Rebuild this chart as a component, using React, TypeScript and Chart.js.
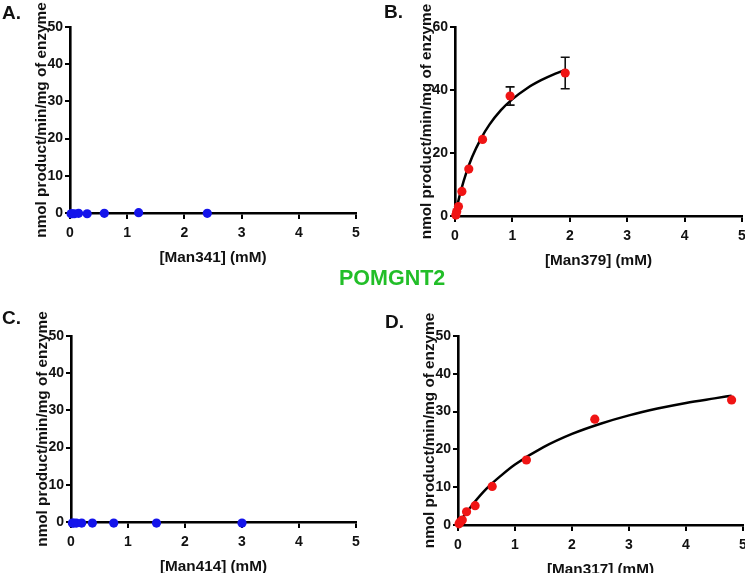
import React, { useEffect, useRef } from "react";
import { Chart, registerables } from "chart.js";

Chart.register(...registerables);

const FONT = "'Liberation Sans', Arial, Helvetica, sans-serif";

// ---- Data ----
const mainTitle = "POMGNT2";
const yTitle = "nmol product/min/mg of enzyme";

// Panel A: Man341 (no activity)
const aX = [0.01875, 0.0375, 0.075, 0.15, 0.3, 0.6, 1.2, 2.4];
const aY = [-0.2, -0.2, -0.2, -0.1, -0.2, -0.1, 0.1, -0.1];

// Panel B: Man379
const bX = [0.015, 0.03, 0.06, 0.12, 0.24, 0.48, 0.96, 1.92];
const bY = [0.3, 1.4, 3.0, 7.8, 14.9, 24.3, 38.1, 45.4];
const bErr = [0, 0, 0, 0, 0, 0, 2.9, 5.0];
const bCurveX = [0, 0.05, 0.1, 0.2, 0.3, 0.45, 0.6, 0.8, 1.0, 1.25, 1.5, 1.75, 1.92];
const bCurveY = [0, 4.1, 7.8, 13.9, 18.8, 24.5, 29.0, 33.6, 37.1, 40.5, 43.1, 45.2, 46.4];

// Panel C: Man414 (no activity)
const cX = [0.0234, 0.046875, 0.09375, 0.1875, 0.375, 0.75, 1.5, 3.0];
const cY = [-0.3, -0.3, -0.3, -0.3, -0.3, -0.3, -0.3, -0.3];

// Panel D: Man317
const dX = [0.01875, 0.0375, 0.075, 0.15, 0.3, 0.6, 1.2, 2.4, 4.8];
const dY = [0.3, 0.8, 1.3, 3.5, 5.1, 10.2, 17.2, 28.0, 33.1];
const dCurveX = [0, 0.1, 0.25, 0.5, 0.75, 1.0, 1.5, 2.0, 2.5, 3.0, 3.5, 4.0, 4.5, 4.8];
const dCurveY = [0, 2.3, 5.3, 9.6, 13.0, 16.0, 20.6, 24.1, 26.8, 29.0, 30.8, 32.3, 33.5, 34.2];

const xMaxAll = 5;
const xStep = 1;

type PanelSpec = {
  L: number; T: number; W: number; H: number;
  area: { x0: number; y0: number; x1: number; y1: number };
  xs: number[]; ys: number[]; color: string;
  curveX?: number[]; curveY?: number[]; err?: number[];
  yMax: number; yStep: number; xTitle: string;
};

function Panel({ spec }: { spec: PanelSpec }) {
  const ref = useRef<HTMLCanvasElement | null>(null);
  useEffect(() => {
    const { L, T, W, H, area } = spec;
    const yAxisW = area.x0 - L;
    const padTop = area.y0 - T;
    const padRight = L + W - area.x1;
    const xAxisH = T + H - area.y1;
    const titleSize = 15.3;
    const halfLH = (titleSize * 1.2) / 2;
    const yTitlePad = yAxisW - 28.5 - halfLH;
    const xTitlePad = xAxisH - 45 - halfLH;
    const tickFont = { family: FONT, size: 14, weight: "bold" as const };
    const titleFont = { family: FONT, size: titleSize, weight: "bold" as const };

    const datasets: any[] = [
      {
        data: spec.xs.map((x, i) => ({ x, y: spec.ys[i] })),
        backgroundColor: spec.color,
        borderColor: spec.color,
        borderWidth: 0,
        pointRadius: 4.6,
        pointHoverRadius: 4.6,
        clip: false,
        order: 0,
      },
    ];
    if (spec.curveX && spec.curveY) {
      datasets.push({
        data: spec.curveX.map((x, i) => ({ x, y: spec.curveY![i] })),
        showLine: true,
        borderColor: "#000",
        borderWidth: 2.5,
        pointRadius: 0,
        pointHoverRadius: 0,
        fill: false,
        cubicInterpolationMode: "monotone",
        clip: false,
        order: 1,
      });
    }

    const errPlugin = {
      id: "errbars",
      beforeDatasetsDraw(chart: any) {
        if (!spec.err) return;
        const ctx = chart.ctx;
        const xs = chart.scales.x;
        const ys = chart.scales.y;
        ctx.save();
        ctx.strokeStyle = "#111";
        ctx.lineWidth = 1.6;
        spec.err.forEach((e, i) => {
          if (!e) return;
          const px = xs.getPixelForValue(spec.xs[i]);
          const top = ys.getPixelForValue(spec.ys[i] + e);
          const bot = ys.getPixelForValue(spec.ys[i] - e);
          ctx.beginPath();
          ctx.moveTo(px, top);
          ctx.lineTo(px, bot);
          ctx.moveTo(px - 4.5, top);
          ctx.lineTo(px + 4.5, top);
          ctx.moveTo(px - 4.5, bot);
          ctx.lineTo(px + 4.5, bot);
          ctx.stroke();
        });
        ctx.restore();
      },
    };

    const chart = new Chart(ref.current as HTMLCanvasElement, {
      type: "scatter",
      data: { datasets },
      plugins: [errPlugin],
      options: {
        animation: false,
        responsive: false,
        devicePixelRatio: 1,
        layout: { padding: { top: padTop, right: padRight, left: 0, bottom: 0 } },
        plugins: { legend: { display: false }, tooltip: { enabled: false } },
        scales: {
          x: {
            type: "linear",
            min: 0,
            max: xMaxAll,
            ticks: { stepSize: xStep, font: tickFont, color: "#111", padding: 6 },
            grid: {
              display: true,
              drawOnChartArea: false,
              drawTicks: true,
              tickLength: 6,
              lineWidth: 2,
              color: "#000",
            },
            border: { display: true, width: 2.6, color: "#000" },
            title: {
              display: true,
              text: spec.xTitle,
              font: titleFont,
              color: "#111",
              padding: { top: 0, bottom: xTitlePad },
            },
            afterFit: (s: any) => {
              s.height = xAxisH;
            },
          },
          y: {
            type: "linear",
            min: 0,
            max: spec.yMax,
            ticks: { stepSize: spec.yStep, font: tickFont, color: "#111", padding: 2 },
            grid: {
              display: true,
              drawOnChartArea: false,
              drawTicks: true,
              tickLength: 5,
              lineWidth: 2,
              color: "#000",
            },
            border: { display: true, width: 2.6, color: "#000" },
            title: {
              display: true,
              text: yTitle,
              font: titleFont,
              color: "#111",
              padding: { top: yTitlePad, bottom: 0 },
            },
            afterFit: (s: any) => {
              s.width = yAxisW;
            },
          },
        },
      } as any,
    });
    return () => chart.destroy();
  }, [spec]);

  return (
    <canvas
      ref={ref}
      width={spec.W}
      height={spec.H}
      style={{ position: "absolute", left: spec.L, top: spec.T, width: spec.W, height: spec.H }}
    />
  );
}

const panels: PanelSpec[] = [
  {
    L: 0, T: 0, W: 372, H: 275,
    area: { x0: 70, y0: 27, x1: 356, y1: 213 },
    xs: aX, ys: aY, color: "rgb(20,20,235)",
    yMax: 50, yStep: 10, xTitle: "[Man341] (mM)",
  },
  {
    L: 372, T: 0, W: 385, H: 275,
    area: { x0: 455, y0: 27, x1: 742, y1: 216 },
    xs: bX, ys: bY, color: "rgb(240,20,20)",
    curveX: bCurveX, curveY: bCurveY, err: bErr,
    yMax: 60, yStep: 20, xTitle: "[Man379] (mM)",
  },
  {
    L: 0, T: 283, W: 372, H: 300,
    area: { x0: 71, y0: 336, x1: 356, y1: 522 },
    xs: cX, ys: cY, color: "rgb(20,20,235)",
    yMax: 50, yStep: 10, xTitle: "[Man414] (mM)",
  },
  {
    L: 372, T: 283, W: 385, H: 300,
    area: { x0: 458, y0: 336, x1: 743, y1: 525 },
    xs: dX, ys: dY, color: "rgb(240,20,20)",
    curveX: dCurveX, curveY: dCurveY,
    yMax: 50, yStep: 10, xTitle: "[Man317] (mM)",
  },
];

const labelStyle: React.CSSProperties = {
  position: "absolute",
  fontFamily: FONT,
  fontWeight: "bold",
  fontSize: 19,
  lineHeight: "19px",
  color: "#111",
  whiteSpace: "nowrap",
};

export default function App() {
  return (
    <div
      style={{
        position: "fixed",
        left: 0,
        top: 0,
        width: 745,
        height: 573,
        overflow: "hidden",
        background: "#fff",
      }}
    >
      {panels.map((p, i) => (
        <Panel key={i} spec={p} />
      ))}
      <div style={{ ...labelStyle, left: 2, top: 3 }}>A.</div>
      <div style={{ ...labelStyle, left: 384, top: 2 }}>B.</div>
      <div style={{ ...labelStyle, left: 2, top: 308 }}>C.</div>
      <div style={{ ...labelStyle, left: 385, top: 312 }}>D.</div>
      <div
        style={{
          position: "absolute",
          left: 339,
          top: 268,
          fontFamily: FONT,
          fontWeight: "bold",
          fontSize: 21.5,
          lineHeight: "21.5px",
          color: "rgb(34,190,40)",
          whiteSpace: "nowrap",
        }}
      >
        {mainTitle}
      </div>
    </div>
  );
}
